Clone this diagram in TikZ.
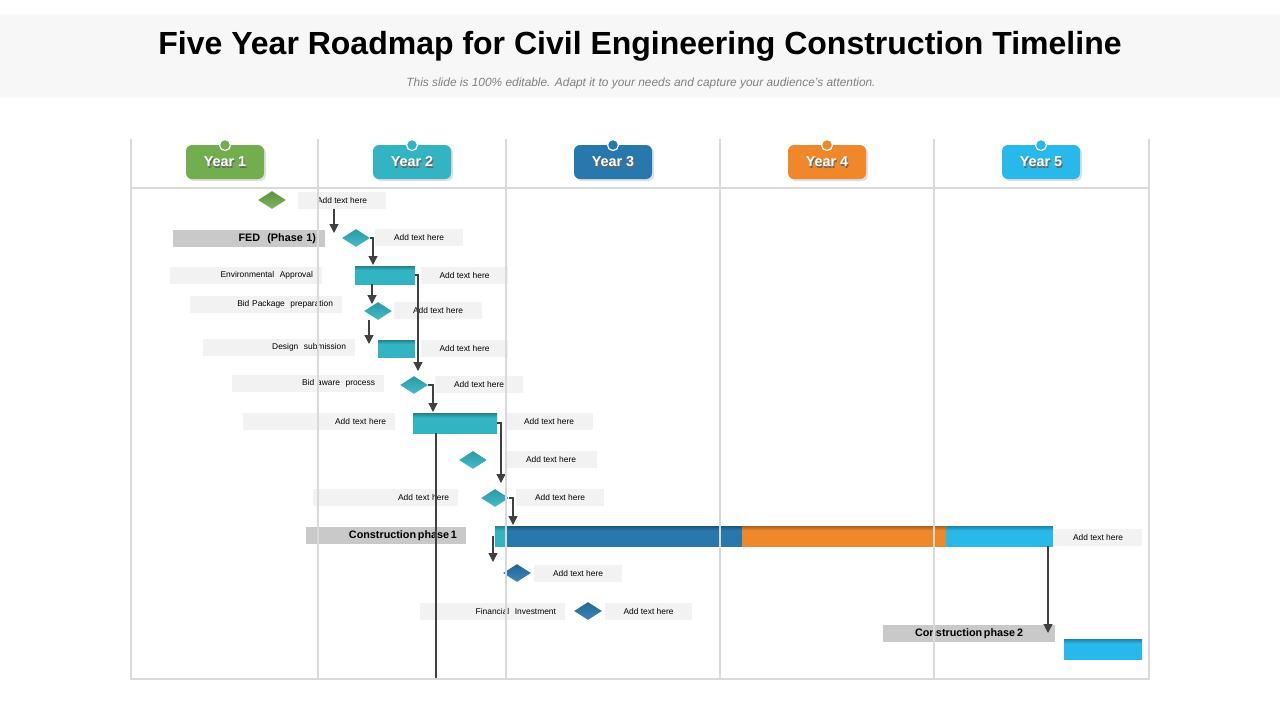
\documentclass[tikz,border=0pt]{standalone}
\usepackage{fontspec}
\setmainfont{Liberation Sans}
\usetikzlibrary{shapes.geometric,arrows.meta,shadows}
\definecolor{headbg}{HTML}{F7F7F7}
\definecolor{gridgray}{HTML}{D9D9D9}
\definecolor{boxgray}{HTML}{F2F2F2}
\definecolor{lblgray}{HTML}{C9C9C9}
\definecolor{arrgray}{HTML}{404040}
\definecolor{ygreen}{HTML}{72AD4E}
\definecolor{yteal}{HTML}{32B4C3}
\definecolor{yblue}{HTML}{2878AE}
\definecolor{yorange}{HTML}{EE882B}
\definecolor{ysky}{HTML}{28B8E9}
\colorlet{barmain}{yteal}
\colorlet{bartop}{yteal}
\pgfdeclareverticalshading[bartop,barmain]{barshade}{100bp}{color(0bp)=(barmain); color(64bp)=(barmain); color(75bp)=(bartop); color(100bp)=(bartop)}

\begin{document}
\begin{tikzpicture}[x=0.5pt,y=-0.5pt,
  txtbox/.style={fill=boxgray,minimum width=44pt,minimum height=8.5pt,inner sep=0pt,
    font=\fontsize{4.2}{5}\selectfont},
  lbl/.style={fill=boxgray,text width=#1,align=right,inner xsep=4.5pt,inner ysep=0pt,
    minimum height=8.5pt,font=\fontsize{4.2}{5}\selectfont},
  phase/.style={lbl=#1,fill=lblgray,font=\fontsize{5.4}{6}\selectfont\bfseries},
  gem/.style={diamond,aspect=1.55,minimum width=14pt,minimum height=9pt,inner sep=0pt,
    top color=#1!85!black,bottom color=#1!90!white},
  bar/.style={rectangle,inner sep=0pt,minimum height=10pt,
    /utils/exec={\colorlet{barmain}{#1}\colorlet{bartop}{#1!72!black}},shading=barshade},
  yeartab/.style={rounded corners=3pt,minimum width=39pt,minimum height=17pt,
    fill=#1,drop shadow={shadow xshift=1pt,shadow yshift=-1pt,opacity=.25}},
  yeardot/.style={circle,fill=#1,draw=white,line width=.6pt,minimum size=5.5pt,inner sep=0pt},
  yeartxt/.style={text=white,font=\fontsize{7.2}{8}\selectfont\bfseries},
  arr/.style={draw=arrgray,line width=.6pt,-{Triangle[length=4.5pt,width=4.5pt]}},
  gridline/.style={draw=gridgray,line width=.6pt}]
\useasboundingbox (0,0) rectangle (1280,720);

% heading
\fill[headbg] (0,14) rectangle (1280,98);
\node (title) at (640,46) {\fontsize{16}{19}\selectfont\bfseries Five Year Roadmap for Civil Engineering Construction Timeline};
\node[text=black!50] (sub) at (641,83.5) {\fontsize{5.95}{7}\selectfont\itshape This slide is 100\% editable. Adapt it to your needs and capture your audience's attention.};

% year tabs
\node[yeartab=ygreen] (y1) at (225,162) {};
\node[yeartxt,text=black!60] at (226,163.5) {Year 1};
\node[yeartxt] at (y1) {Year 1};
\node[yeardot=ygreen] at (225,145) {};
\node[yeartab=yteal] (y2) at (412,162) {};
\node[yeartxt,text=black!60] at (413,163.5) {Year 2};
\node[yeartxt] at (y2) {Year 2};
\node[yeardot=yteal] at (412,145) {};
\node[yeartab=yblue] (y3) at (613,162) {};
\node[yeartxt,text=black!60] at (614,163.5) {Year 3};
\node[yeartxt] at (y3) {Year 3};
\node[yeardot=yblue] at (613,145) {};
\node[yeartab=yorange] (y4) at (827,162) {};
\node[yeartxt,text=black!60] at (828,163.5) {Year 4};
\node[yeartxt] at (y4) {Year 4};
\node[yeardot=yorange] at (827,145) {};
\node[yeartab=ysky] (y5) at (1041,162) {};
\node[yeartxt,text=black!60] at (1042,163.5) {Year 5};
\node[yeartxt] at (y5) {Year 5};
\node[yeardot=ysky] at (1041,145) {};

% rows
\node[gem=ygreen] (d1) at (272,200) {};
\node[txtbox] (t1) at (342,200.5) {Add text here};

\node[phase=67pt] (l2) at (249,238.5) {FED\ \ (Phase 1)};
\node[gem=yteal] (d2) at (356,238) {};
\node[txtbox] (t2) at (419,237.5) {Add text here};

\node[lbl=67pt] (l3) at (246,275.5) {Environmental\ \ Approval};
\node[bar=yteal,minimum width=30pt,minimum height=9pt] (b3) at (385,275) {};
\node[txtbox,minimum width=43.5pt] (t3) at (464.5,275.5) {Add text here};

\node[lbl=67pt] (l4) at (266,304.5) {Bid Package\ \ preparation};
\node[gem=yteal] (d4) at (378,311) {};
\node[txtbox] (t4) at (438,310.5) {Add text here};

\node[lbl=67pt] (l5) at (279,347.5) {Design\ \ submission};
\node[bar=yteal,minimum width=18.5pt,minimum height=8.5pt] (b5) at (396.5,348.5) {};
\node[txtbox,minimum width=43.5pt] (t5) at (464.5,348.5) {Add text here};

\node[lbl=67pt] (l6) at (308,383.5) {Bid aware\ \ process};
\node[gem=yteal] (d6) at (414,385) {};
\node[txtbox] (t6) at (479,384.5) {Add text here};

\node[lbl=67pt] (l7) at (319,421.5) {Add text here};
\node[bar=yteal,minimum width=42pt] (b7) at (455,423) {};
\node[txtbox] (t7) at (549,421.5) {Add text here};

\node[gem=yteal] (d8) at (473,460) {};
\node[txtbox,minimum width=46pt] (t8) at (551,459.5) {Add text here};

\node[lbl=63.5pt] (l9) at (385.5,497.5) {Add text here};
\node[gem=yteal] (d9) at (495,498) {};
\node[txtbox] (t9) at (560,497.5) {Add text here};

\node[phase=71pt] (l10) at (386,535.5) {Construction\,phase\,1};
\node[bar=yteal,minimum width=6pt] (b10a) at (501,536) {};
\node[bar=yblue,minimum width=117.5pt] (b10b) at (624.5,536) {};
\node[bar=yorange,minimum width=102pt] (b10c) at (844,536) {};
\node[bar=ysky,minimum width=53.5pt] (b10d) at (999.5,536) {};
\node[txtbox] (t10) at (1098,537.5) {Add text here};

\node[gem=yblue] (d11) at (517,573) {};
\node[txtbox] (t11) at (578,573.5) {Add text here};

\node[lbl=63.5pt] (l12) at (492.5,611.5) {Financial\ \ Investment};
\node[gem=yblue] (d12) at (588,611) {};
\node[txtbox,minimum width=43.5pt] (t12) at (648.5,611.5) {Add text here};

\node[phase=77pt,align=center] (l13) at (969,633.5) {Construction\,phase\,2};
\node[bar=ysky,minimum width=39pt] (b13) at (1103,649) {};

% connectors
\coordinate (c1) at (334,233);
\coordinate (c2) at (373,265);
\coordinate (c3a) at (418,371);
\coordinate (c3b) at (372,304);
\coordinate (c4) at (369,344);
\coordinate (c6) at (433,412);
\coordinate (c7) at (501,483);
\coordinate (e7) at (436,680);
\coordinate (c9) at (513,525);
\coordinate (c10a) at (493,562);
\coordinate (c10b) at (1048,633);
\draw[arr] (t1.south -| c1) -- (c1);
\draw[arr] (d2.east) -| (c2);
\draw[arr] (b3.east) -| (c3a);
\draw[arr] (b3.south -| c3b) -- (c3b);
\draw[arr] (d4.south -| c4) -- (c4);
\draw[arr] (d6.east) -| (c6);
\draw[arr] (b7.east) -| (c7);
\draw[draw=arrgray,line width=.6pt] (b7.south -| e7) -- (e7);
\draw[arr] (d9.east) -| (c9);
\draw[arr] (b10a.west -| c10a) -- (c10a);
\draw[arr] (b10d.south -| c10b) -- (c10b);

% grid on top
\draw[gridline] (131,139) -- (131,679) -- (1149,679) -- (1149,139);
\draw[gridline] (131,188) -- (1149,188);
\draw[gridline] (318,139) -- (318,679);
\draw[gridline] (506,139) -- (506,679);
\draw[gridline] (720,139) -- (720,679);
\draw[gridline] (934,139) -- (934,679);
\end{tikzpicture}
\end{document}
